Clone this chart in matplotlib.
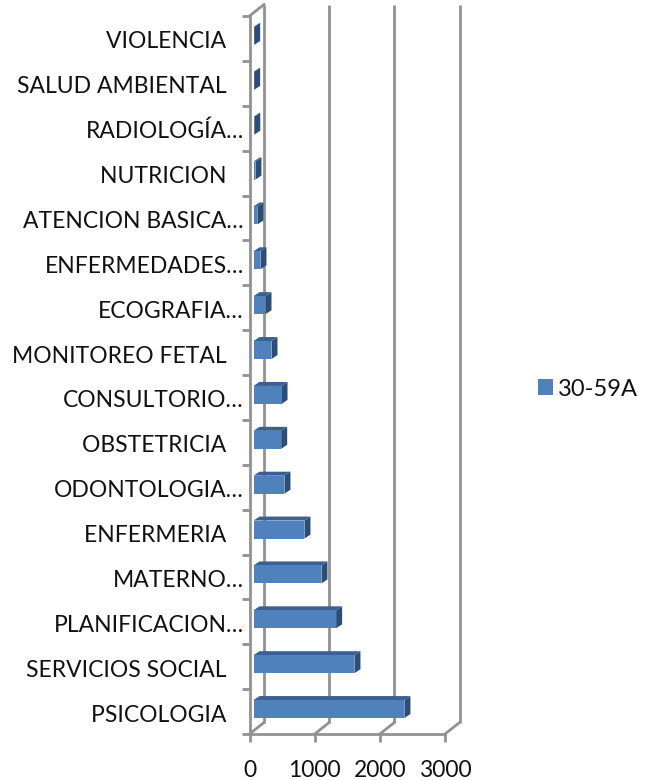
import matplotlib
matplotlib.use('Agg')
import matplotlib.pyplot as plt
from matplotlib.patches import Polygon
from matplotlib.transforms import ScaledTranslation

categories = ['PSICOLOGIA   ', 'SERVICIOS SOCIAL   ', 'PLANIFICACION…', 'MATERNO…', 'ENFERMERIA   ',
              'ODONTOLOGIA…', 'OBSTETRICIA   ', 'CONSULTORIO…', 'MONITOREO FETAL   ', 'ECOGRAFIA…',
              'ENFERMEDADES…', 'ATENCION BASICA…', 'NUTRICION   ', 'RADIOLOGÍA…', 'SALUD AMBIENTAL   ',
              'VIOLENCIA   ']
values = [2316, 1549, 1268, 1043, 782, 475, 425, 430, 276, 184, 107, 60, 30, 12, 10, 10]
xticks = [0, 1000, 2000, 3000]
series_name = '30-59A'

plt.rcParams['font.family'] = ['Lato', 'DejaVu Sans']

W, H = 654, 780
fig = plt.figure(figsize=(W / 100, H / 100), dpi=100)
ax = fig.add_axes([249.5 / W, 1 - 734 / H, 195.5 / W, 718 / H])
ax.set_xlim(0, 3000)
ax.set_ylim(-0.5, 15.5)

# depth of the fake 3d box, in data units
px_x = 3000 / 195.5
px_y = 16 / 718
wall_dx = 14.5 * px_x
wall_dy = 11.5 * px_y
bar_dx = 6 * px_x
bar_dy = 4 * px_y
bar_start = 4 * px_x
bar_h = 18 * px_y
bar_up = 2.5 * px_y

grid = '#929292'
top_y = 15.5 + wall_dy
floor_y = -0.5 + wall_dy
for t in xticks:
    ax.plot([t + wall_dx, t + wall_dx], [floor_y, top_y], color=grid, lw=2, clip_on=False, zorder=1,
            solid_capstyle='butt')
    ax.plot([t, t + wall_dx], [-0.5, floor_y], color=grid, lw=2, clip_on=False, zorder=1)
ax.plot([0, wall_dx], [15.5, top_y], color=grid, lw=2, clip_on=False, zorder=1)

# bars, side and top faces first
for i, v in enumerate(values):
    y0 = i + bar_up - bar_h / 2
    y1 = y0 + bar_h
    x1 = bar_start + v
    ax.add_patch(Polygon([(x1, y0), (x1 + bar_dx, y0 + bar_dy), (x1 + bar_dx, y1 + bar_dy), (x1, y1)],
                         fc='#2c4d75', ec='none', clip_on=False, zorder=3))
    ax.add_patch(Polygon([(bar_start, y1), (bar_start + bar_dx, y1 + bar_dy), (x1 + bar_dx, y1 + bar_dy), (x1, y1)],
                         fc='#3a6090', ec='none', clip_on=False, zorder=3))
ypos = [i + bar_up for i in range(len(values))]
bars = ax.barh(ypos, values, height=bar_h, left=bar_start, color='#4f81bd', edgecolor='none',
               zorder=4, label=series_name)

for s in ['top', 'right']:
    ax.spines[s].set_visible(False)
for s in ['left', 'bottom']:
    ax.spines[s].set_color(grid)
    ax.spines[s].set_linewidth(2)

ax.set_xticks(xticks)
ax.set_xticklabels([str(t) for t in xticks])
ax.set_yticks([i - 0.5 for i in range(len(values) + 1)])
ax.set_yticklabels([])
ax.set_yticks(range(len(values)), labels=categories, minor=True)
ax.tick_params(axis='y', which='major', length=6, width=2, color=grid)
ax.tick_params(axis='y', which='minor', length=0, pad=4, labelsize=16.5, labelcolor='#111111')
ax.tick_params(axis='x', length=6, width=2, color=grid, pad=13, labelsize=16.5, labelcolor='#111111')
# labels sit a little lower than the tick centre
shift = ScaledTranslation(0, -1.5 / 100, fig.dpi_scale_trans)
for lab in ax.get_yticklabels(minor=True):
    lab.set_transform(lab.get_transform() + shift)

fig.legend(handles=[bars], labels=[series_name], loc='center left', bbox_to_anchor=(517 / W, 1 - 389 / H),
           frameon=False, fontsize=17, handlelength=0.63, handleheight=0.63, handletextpad=0.2,
           labelcolor='#111111')

fig.savefig('out.png', dpi=100)
